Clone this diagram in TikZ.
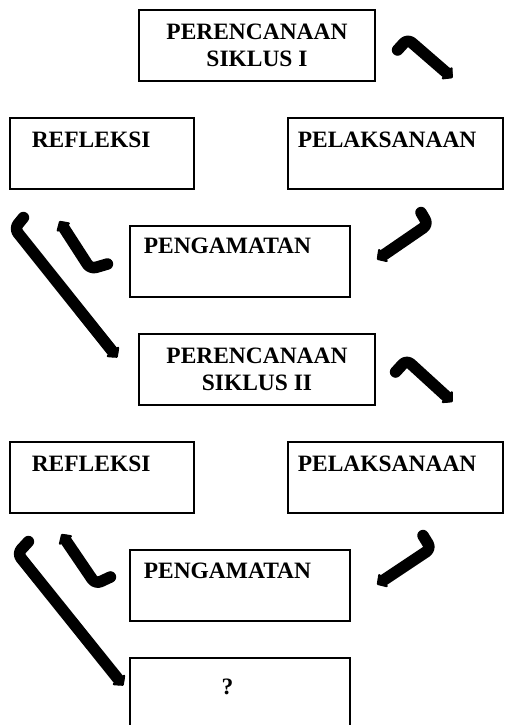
\documentclass[tikz,border=0pt]{standalone}
\usepackage{fontspec}
\setmainfont{Liberation Serif}
\usetikzlibrary{arrows.meta}
\newcommand{\pxu}{0.52pt}

\begin{document}
\begin{tikzpicture}[x=\pxu, y=-\pxu,
        box/.style={rectangle, draw, line width=0.6pt, inner sep=0pt, minimum height=71*\pxu},
        txt/.style={font=\fontsize{12.2}{14}\selectfont\bfseries, inner sep=0pt},
        bentarrow/.style={line width=6pt, line cap=round, line join=round, rounded corners=3pt, -{Triangle[length=4.5pt, width=9.5pt, round]}}]

    \useasboundingbox (0,0) rectangle (504,725);
    \clip (0,0) rectangle (504,725);

    % siklus I
    \node[box, txt, align=center, minimum width=236*\pxu] (plan1) at (257,45.5) {PERENCANAAN\\SIKLUS I};
    \node[box, minimum width=184*\pxu] (refl1) at (102,153.5) {};
    \node[box, minimum width=215*\pxu] (pel1) at (395.5,153.5) {};
    \node[box, minimum width=220*\pxu] (peng1) at (240,261.5) {};

    \node[txt, anchor=base west] (refl1txt) at ([shift={(22,30)}]refl1.north west) {REFLEKSI};
    \node[txt, anchor=base west] (pel1txt) at ([shift={(10,30)}]pel1.north west) {PELAKSANAAN};
    \node[txt, anchor=base west] (peng1txt) at ([shift={(14,28)}]peng1.north west) {PENGAMATAN};

    % siklus II
    \node[box, txt, align=center, minimum width=236*\pxu] (plan2) at (257,369.5) {PERENCANAAN\\SIKLUS II};
    \node[box, minimum width=184*\pxu] (refl2) at (102,477.5) {};
    \node[box, minimum width=215*\pxu] (pel2) at (395.5,477.5) {};
    \node[box, minimum width=220*\pxu] (peng2) at (240,585.5) {};
    \node[box, minimum width=220*\pxu] (quest) at (240,693.5) {};

    \node[txt, anchor=base west] (refl2txt) at ([shift={(22,30)}]refl2.north west) {REFLEKSI};
    \node[txt, anchor=base west] (pel2txt) at ([shift={(10,30)}]pel2.north west) {PELAKSANAAN};
    \node[txt, anchor=base west] (peng2txt) at ([shift={(14,29)}]peng2.north west) {PENGAMATAN};
    \node[txt, anchor=base] (questtxt) at ([shift={(98,37)}]quest.north west) {?};

    % panah
    \draw[bentarrow] ([shift={(22,4.5)}]plan1.east) -- ++(10,-11) -- ++(45,39);
    \draw[bentarrow] ([shift={(25.5,23)}]pel1.south) -- ++(7,12) -- ++(-51,35);
    \draw[bentarrow] ([shift={(-22,2.5)}]peng1.west) -- ++(-17,5) -- ++(-31,-48);
    \draw[bentarrow] ([shift={(14,28)}]refl1.south west) -- ++(-9,11) -- ++(103,129);

    \draw[bentarrow] ([shift={(20,2.5)}]plan2.east) -- ++(11,-12) -- ++(46,42);
    \draw[bentarrow] ([shift={(27.5,22)}]pel2.south) -- ++(8,13) -- ++(-54,36);
    \draw[bentarrow] ([shift={(-19,-8.5)}]peng2.west) -- ++(-15,7) -- ++(-34,-50);
    \draw[bentarrow] ([shift={(19,28)}]refl2.south west) -- ++(-11,12) -- ++(106,132);

\end{tikzpicture}
\end{document}
